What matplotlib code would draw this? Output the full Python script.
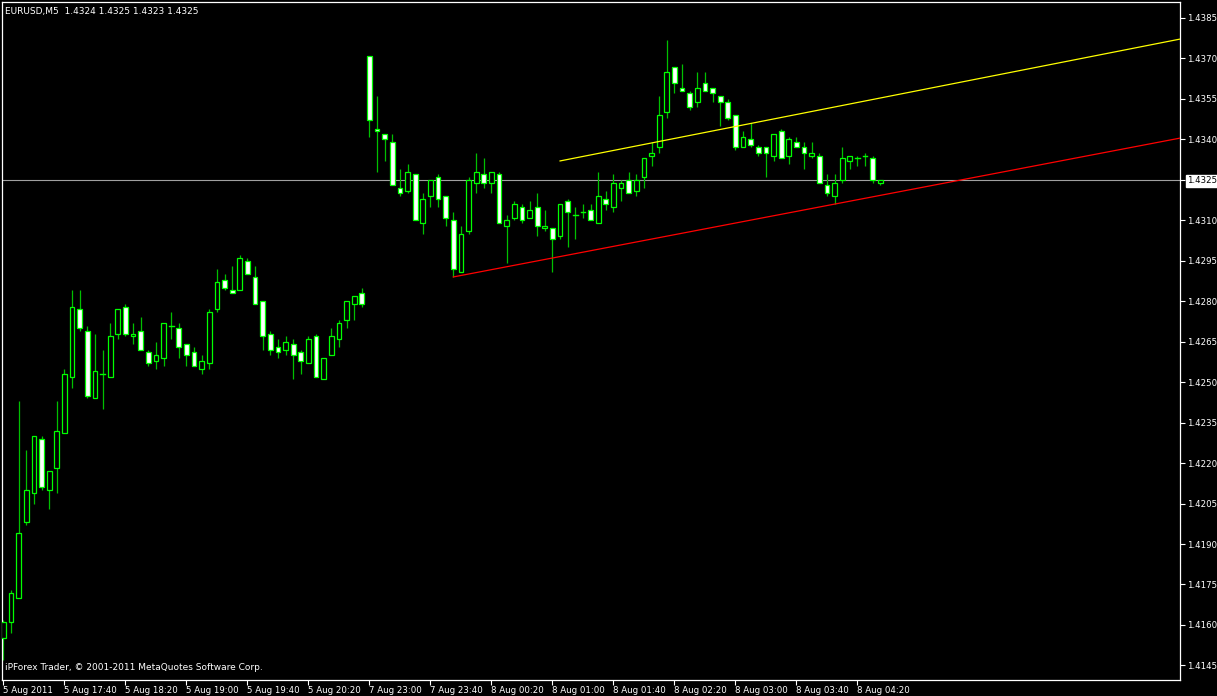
import matplotlib
matplotlib.use('Agg')
import matplotlib.pyplot as plt
from matplotlib.patches import Rectangle

# EURUSD M5 bars (bar index 0 = 5 Aug 17:00)
opens = [1.4155, 1.4161, 1.4170, 1.4198, 1.4209, 1.4229, 1.4210, 1.4218, 1.4231, 1.4252,
         1.4277, 1.4269, 1.4244, 1.4253, 1.4252, 1.4268, 1.4278, 1.4267, 1.4269, 1.4261,
         1.4258, 1.4259, 1.4271, 1.4270, 1.4264, 1.4261, 1.4255, 1.4257, 1.4277, 1.4288,
         1.4284, 1.4284, 1.4295, 1.4289, 1.4280, 1.4268, 1.4263, 1.4262, 1.4264, 1.4261,
         1.4257, 1.4267, 1.4251, 1.4260, 1.4266, 1.4273, 1.4279, 1.4283, 1.4371, 1.4344,
         1.4342, 1.4339, 1.4322, 1.4321, 1.4327, 1.4309, 1.4319, 1.4326, 1.4319, 1.4310,
         1.4291, 1.4306, 1.4324, 1.4327, 1.4324, 1.4327, 1.4308, 1.4311, 1.4315, 1.4311,
         1.4315, 1.4307, 1.4307, 1.4304, 1.4317, 1.4312, 1.4313, 1.4314, 1.4309, 1.4318,
         1.4315, 1.4322, 1.4325, 1.4321, 1.4326, 1.4334, 1.4337, 1.4350, 1.4367, 1.4359,
         1.4357, 1.4354, 1.4361, 1.4359, 1.4356, 1.4354, 1.4349, 1.4337, 1.4340, 1.4337,
         1.4337, 1.4334, 1.4343, 1.4334, 1.4339, 1.4337, 1.4334, 1.4334, 1.4323, 1.4319,
         1.4325, 1.4332, 1.4333, 1.4334, 1.4333, 1.4324]
highs = [1.4162, 1.4173, 1.4243, 1.4225, 1.4230, 1.4230, 1.4217, 1.4243, 1.4255, 1.4284,
         1.4284, 1.4271, 1.4268, 1.4262, 1.4272, 1.4277, 1.4279, 1.4272, 1.4274, 1.4262,
         1.4265, 1.4272, 1.4276, 1.4272, 1.4264, 1.4263, 1.4260, 1.4277, 1.4292, 1.4290,
         1.4293, 1.4297, 1.4296, 1.4293, 1.4280, 1.4269, 1.4266, 1.4267, 1.4266, 1.4262,
         1.4267, 1.4268, 1.4259, 1.4270, 1.4273, 1.4280, 1.4282, 1.4285, 1.4371, 1.4356,
         1.4342, 1.4342, 1.4329, 1.4331, 1.4327, 1.4320, 1.4325, 1.4327, 1.4319, 1.4313,
         1.4308, 1.4326, 1.4335, 1.4333, 1.4328, 1.4328, 1.4312, 1.4317, 1.4316, 1.4317,
         1.4320, 1.4314, 1.4307, 1.4316, 1.4318, 1.4315, 1.4316, 1.4316, 1.4328, 1.4321,
         1.4327, 1.4325, 1.4328, 1.4327, 1.4333, 1.4339, 1.4356, 1.4377, 1.4367, 1.4368,
         1.4358, 1.4365, 1.4365, 1.4359, 1.4356, 1.4355, 1.4349, 1.4343, 1.4346, 1.4338,
         1.4337, 1.4342, 1.4344, 1.4341, 1.4341, 1.4339, 1.4339, 1.4335, 1.4327, 1.4327,
         1.4337, 1.4334, 1.4334, 1.4335, 1.4334, 1.4325]
lows = [1.4147, 1.4157, 1.4170, 1.4197, 1.4205, 1.4210, 1.4203, 1.4209, 1.4231, 1.4248,
        1.4269, 1.4244, 1.4244, 1.4240, 1.4252, 1.4266, 1.4267, 1.4264, 1.4262, 1.4256,
        1.4255, 1.4256, 1.4266, 1.4259, 1.4256, 1.4256, 1.4253, 1.4255, 1.4276, 1.4284,
        1.4283, 1.4284, 1.4290, 1.4279, 1.4262, 1.4260, 1.4259, 1.4260, 1.4251, 1.4253,
        1.4257, 1.4252, 1.4251, 1.4260, 1.4263, 1.4270, 1.4273, 1.4278, 1.4341, 1.4328,
        1.4332, 1.4323, 1.4319, 1.4320, 1.4310, 1.4305, 1.4315, 1.4315, 1.4308, 1.4289,
        1.4291, 1.4305, 1.4320, 1.4322, 1.4320, 1.4309, 1.4294, 1.4310, 1.4309, 1.4311,
        1.4304, 1.4306, 1.4291, 1.4303, 1.4300, 1.4303, 1.4311, 1.4310, 1.4309, 1.4314,
        1.4313, 1.4317, 1.4320, 1.4319, 1.4322, 1.4330, 1.4335, 1.4348, 1.4357, 1.4358,
        1.4351, 1.4352, 1.4358, 1.4354, 1.4345, 1.4347, 1.4336, 1.4337, 1.4337, 1.4334,
        1.4326, 1.4332, 1.4333, 1.4331, 1.4337, 1.4329, 1.4333, 1.4324, 1.4319, 1.4316,
        1.4324, 1.4329, 1.4330, 1.4330, 1.4324, 1.4323]
closes = [1.4161, 1.4172, 1.4194, 1.4210, 1.4230, 1.4211, 1.4217, 1.4232, 1.4253, 1.4278,
          1.4270, 1.4245, 1.4254, 1.4253, 1.4267, 1.4277, 1.4268, 1.4268, 1.4262, 1.4257,
          1.4260, 1.4272, 1.4271, 1.4263, 1.4260, 1.4256, 1.4258, 1.4276, 1.4287, 1.4285,
          1.4283, 1.4296, 1.4290, 1.4279, 1.4267, 1.4262, 1.4261, 1.4265, 1.4260, 1.4258,
          1.4266, 1.4252, 1.4259, 1.4267, 1.4272, 1.4280, 1.4282, 1.4279, 1.4347, 1.4343,
          1.4340, 1.4323, 1.4320, 1.4328, 1.4310, 1.4318, 1.4325, 1.4318, 1.4311, 1.4292,
          1.4305, 1.4325, 1.4328, 1.4324, 1.4328, 1.4309, 1.4310, 1.4316, 1.4310, 1.4314,
          1.4308, 1.4308, 1.4303, 1.4316, 1.4313, 1.4312, 1.4313, 1.4310, 1.4319, 1.4316,
          1.4324, 1.4324, 1.4320, 1.4325, 1.4333, 1.4335, 1.4349, 1.4365, 1.4361, 1.4358,
          1.4352, 1.4359, 1.4358, 1.4357, 1.4354, 1.4348, 1.4337, 1.4341, 1.4338, 1.4335,
          1.4335, 1.4342, 1.4333, 1.4340, 1.4337, 1.4335, 1.4335, 1.4324, 1.4320, 1.4324,
          1.4333, 1.4334, 1.4333, 1.4334, 1.4325, 1.4325]

time_ticks = [0, 8, 16, 24, 32, 40, 48, 56, 64, 72, 80, 88, 96, 104, 112]
time_labels = ['5 Aug 2011', '5 Aug 17:40', '5 Aug 18:20', '5 Aug 19:00', '5 Aug 19:40',
               '5 Aug 20:20', '7 Aug 23:00', '7 Aug 23:40', '8 Aug 00:20', '8 Aug 01:00',
               '8 Aug 01:40', '8 Aug 02:20', '8 Aug 03:00', '8 Aug 03:40', '8 Aug 04:20']
price_ticks = [1.4145, 1.4160, 1.4175, 1.4190, 1.4205, 1.4220, 1.4235, 1.4250, 1.4265,
               1.4280, 1.4295, 1.4310, 1.4325, 1.4340, 1.4355, 1.4370, 1.4385]
bid = 1.4325

# trend lines: two anchor points each (bar, price), drawn as rays to the right
red_line = [(59, 1.4289), (109, 1.4316)]
yellow_line = [(73, 1.4332), (100, 1.4347)]

BG = 'black'
FG = 'white'
LIME = '#00ff00'
WICK = '#00c000'

W, H = 1217, 696
fig = plt.figure(figsize=(W / 100, H / 100), dpi=100, facecolor=BG)
# plot frame: x 1.5..1180 px, y 1.5..680 px
ax = fig.add_axes([1.5 / W, (H - 680) / H, (1180 - 1.5) / W, (680 - 1.5) / H])
ax.set_facecolor(BG)
ax.set_xlim(-0.25, 154.3)
ax.set_ylim(1.41396, 1.43911)

body_w = 0.62
for i, (o, h, l, c) in enumerate(zip(opens, highs, lows, closes)):
    ax.plot([i, i], [l, h], color=WICK, lw=0.9, solid_capstyle='butt', zorder=2)
    if c == o:
        ax.plot([i - body_w / 2, i + body_w / 2], [o, o], color=LIME, lw=1.0, zorder=3)
        continue
    fill = BG if c > o else FG
    ax.add_patch(Rectangle((i - body_w / 2, min(o, c)), body_w, abs(c - o),
                           facecolor=fill, edgecolor=LIME, lw=0.9, zorder=3))

# bid line
ax.axhline(bid, color='#a0a0a0', lw=0.8, zorder=1)

def ray(pts, color):
    (x1, y1), (x2, y2) = pts
    slope = (y2 - y1) / (x2 - x1)
    x_end = 200
    ax.plot([x1, x_end], [y1, y1 + slope * (x_end - x1)], color=color, lw=0.9, zorder=4)

ray(red_line, '#ff0000')
ray(yellow_line, '#ffff00')

for s in ax.spines.values():
    s.set_color(FG)
    s.set_linewidth(0.9)

ax.yaxis.tick_right()
ax.set_yticks(price_ticks, [f'{p:.4f}' for p in price_ticks])
ax.set_xticks(time_ticks, time_labels)
for lbl in ax.get_xticklabels():
    lbl.set_horizontalalignment('left')
ax.tick_params(axis='both', colors=FG, labelcolor=FG, labelsize=6.2, length=3.5, width=0.8)
ax.tick_params(axis='y', pad=1.5)
ax.tick_params(axis='x', pad=1)
for lbl in ax.get_yticklabels():
    if lbl.get_text() == f'{bid:.4f}':
        lbl.set_color('black')
        lbl.set_bbox(dict(facecolor='white', edgecolor='white', pad=1.0))

ax.text(0.003, 0.992, 'EURUSD,M5  1.4324 1.4325 1.4323 1.4325', transform=ax.transAxes,
        color=FG, fontsize=6.5, ha='left', va='top')
ax.text(0.003, 0.012, 'iPForex Trader, \u00a9 2001-2011 MetaQuotes Software Corp.',
        transform=ax.transAxes, color=FG, fontsize=6.5, ha='left', va='bottom')

fig.savefig('out.png', dpi=100, facecolor=BG)
